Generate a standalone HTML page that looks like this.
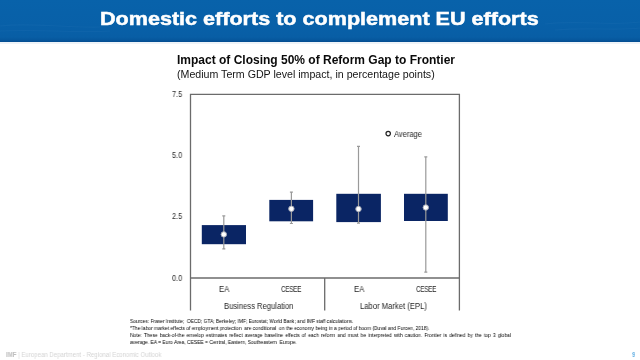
<!DOCTYPE html>
<html><head><meta charset="utf-8">
<style>
*{margin:0;padding:0;box-sizing:border-box}
html,body{width:640px;height:360px;overflow:hidden;background:#fff}
body{position:relative;font-family:"Liberation Sans",sans-serif}
.a{position:absolute;white-space:nowrap;line-height:1;will-change:transform}
#hdr{position:absolute;left:0;top:0;width:640px;height:42px;background:linear-gradient(180deg,#0862aa 0%,#0860a8 60%,#085ea5 88%,#06579d 95%,#044c90 100%)}
#ttl{left:99.5px;top:9.8px;font-size:18.6px;font-weight:bold;color:#fff;transform-origin:0 0;transform:scaleX(1.16);-webkit-text-stroke:0.5px #fff}
#ct{left:176.6px;top:54px;font-size:12px;font-weight:bold;color:#0a0a0a;transform-origin:0 0}
#cs{left:176.5px;top:68.8px;font-size:10.5px;color:#141414;transform-origin:0 0;transform:scaleX(1.012)}
.yl{font-size:8.6px;color:#2a2a2a;transform-origin:0 0;transform:scaleX(0.85)}
.xl{font-size:8.2px;color:#1e1e1e;transform-origin:0 0}
.fn{font-size:5.6px;color:#000;transform-origin:0 0;transform:scaleX(0.88)}
</style></head><body>
<div id="hdr"></div>
<svg class="a" style="left:0;top:0" width="640" height="42" viewBox="0 0 640 42">
  <g fill="none" stroke="#3d86c4" stroke-width="1.2" opacity="0.12">
    <path d="M0 26 C30 22 60 28 100 27"/>
    <path d="M0 31 C40 29 70 33 110 31"/>
    <path d="M545 24 C580 20 610 26 640 22"/>
    <path d="M555 30 C590 27 615 31 640 28"/>
  </g>
</svg>
<div class="a" style="left:0;top:42px;width:640px;height:1.5px;background:#eef3f8"></div>
<div class="a" id="ttl">Domestic efforts to complement EU efforts</div>
<div class="a" id="ct">Impact of Closing 50% of Reform Gap to Frontier</div>
<div class="a" id="cs">(Medium Term GDP level impact, in percentage points)</div>

<svg class="a" style="left:0;top:0" width="640" height="360" viewBox="0 0 640 360">
  <!-- frame -->
  <g stroke="#6b6b6b" stroke-width="1.3" fill="none">
    <path d="M190.5 310.5 V94.3 H459.4 V310.5"/>
    <path d="M190.5 278 H459.4"/>
    <path d="M324.7 278 V310.5"/>
  </g>
  <!-- bars -->
  <g fill="#0a2564">
    <rect x="201.8" y="225.1" width="44.2" height="19.1"/>
    <rect x="269.3" y="199.9" width="43.8" height="21.4"/>
    <rect x="336.3" y="193.8" width="44.6" height="28.3"/>
    <rect x="404" y="193.8" width="43.8" height="27.2"/>
  </g>
  <!-- error bars -->
  <g stroke="#9a9a9a" stroke-width="1.2" fill="none">
    <path d="M223.8 215.8 V248.8 M222.3 215.8 H225.3 M222.3 248.8 H225.3"/>
    <path d="M291.4 192.2 V223.5 M289.9 192.2 H292.9 M289.9 223.5 H292.9"/>
    <path d="M358.5 146.3 V223.1 M357 146.3 H360 M357 223.1 H360"/>
    <path d="M425.8 156.9 V272.2 M424.3 156.9 H427.3 M424.3 272.2 H427.3"/>
  </g>
  <!-- dots -->
  <g fill="#fff" stroke="#a8acb8" stroke-width="1">
    <circle cx="223.8" cy="234.4" r="2.7"/>
    <circle cx="291.4" cy="208.8" r="2.7"/>
    <circle cx="358.5" cy="209" r="2.7"/>
    <circle cx="425.8" cy="207.5" r="2.7"/>
  </g>
  <circle cx="388.2" cy="133.6" r="2.2" fill="none" stroke="#222" stroke-width="1.2"/>
</svg>

<div class="a yl" style="left:171.9px;top:89.6px">7.5</div>
<div class="a yl" style="left:171.9px;top:150.9px">5.0</div>
<div class="a yl" style="left:171.9px;top:212.2px">2.5</div>
<div class="a yl" style="left:171.9px;top:273.5px">0.0</div>

<div class="a xl" style="left:218.9px;top:286.3px;transform:scaleX(0.94)">EA</div>
<div class="a xl" style="left:280.8px;top:286.3px;letter-spacing:-0.35px;transform:scaleX(0.775)">CESEE</div>
<div class="a xl" style="left:353.6px;top:286.3px;transform:scaleX(0.94)">EA</div>
<div class="a xl" style="left:415.5px;top:286.3px;letter-spacing:-0.35px;transform:scaleX(0.775)">CESEE</div>
<div class="a xl" style="left:223.6px;top:303.4px;transform:scaleX(0.93)">Business Regulation</div>
<div class="a xl" style="left:359.6px;top:303.4px;transform:scaleX(0.935)">Labor Market (EPL)</div>
<div class="a xl" style="left:393.5px;top:131.1px;transform:scaleX(0.92)">Average</div>

<div class="a fn" style="left:130.2px;top:318.7px;transform:scaleX(0.868)">Sources: Fraser Institute;&nbsp; OECD; GTA; Berkeley; IMF; Eurostat; World Bank; and IMF staff calculations.</div>
<div class="a fn" style="left:130.2px;top:325.7px">*The labor market effects of employment protection&nbsp; are conditional&nbsp; on the economy being in a period of boom (Duval and Furcen, 2018).</div>
<div class="a fn" style="left:130.2px;top:332.8px;word-spacing:0.92px">Note: These back-of-the envelop estimates reflect average baseline effects of each reform and must be interpreted with caution. Frontier is defined by the top 3 global</div>
<div class="a fn" style="left:130.2px;top:339.8px">average. EA = Euro Area, CESEE = Central, Eastern, Southeastern&nbsp; Europe.</div>

<div class="a" style="left:5.6px;top:351.7px;font-size:6.8px;color:#d4d4d4;transform-origin:0 0;transform:scaleX(0.893)"><b style="color:#bdbdbd">IMF</b> | European Department - Regional Economic Outlook</div>
<div class="a" style="left:631.6px;top:350.6px;font-size:7.2px;color:#62b0e4;font-weight:bold;transform-origin:0 0;transform:scaleX(0.85)">9</div>
</body></html>
